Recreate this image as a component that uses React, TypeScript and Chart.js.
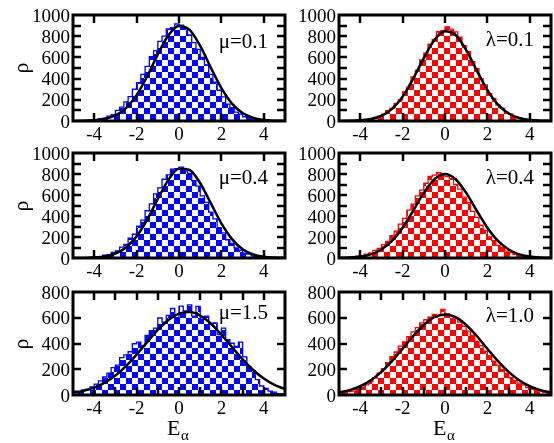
import React, { useEffect, useRef, useState } from "react";
import { Chart, registerables } from "chart.js";

Chart.register(...registerables);

// ---------- data ----------
const BIN_START = -5;
const BIN_WIDTH = 0.2;
const CURVE_X = [-5, -4.5, -4, -3.5, -3, -2.5, -2, -1.5, -1, -0.5, 0, 0.5, 1, 1.5, 2, 2.5, 3, 3.5, 4, 4.5, 5];

const histMu01 = [0, 1, 2, 4, 5, 9, 12, 22, 28, 46, 60, 100, 130, 180, 230, 300, 362, 440, 516, 606, 664, 752, 800, 868, 880, 915, 905, 872, 812, 740, 676, 600, 530, 440, 366, 290, 228, 160, 126, 84, 66, 40, 32, 18, 14, 7, 5, 3, 2, 1];
const fitMu01 = [0, 2, 6, 20, 52, 122, 244, 422, 629, 809, 897, 859, 708, 504, 310, 164, 75, 30, 10, 3, 1];

const histLam01 = [0, 1, 2, 2, 4, 6, 9, 14, 22, 34, 45, 64, 98, 120, 166, 200, 274, 320, 416, 478, 576, 640, 724, 770, 842, 852, 888, 866, 840, 790, 712, 654, 560, 494, 400, 340, 258, 214, 150, 122, 80, 64, 40, 30, 18, 12, 7, 5, 3, 1];
const fitLam01 = [0, 2, 6, 19, 49, 115, 230, 399, 594, 764, 847, 811, 669, 476, 292, 155, 71, 28, 9, 3, 1];

const histMu04 = [0, 1, 1, 3, 3, 7, 10, 14, 26, 32, 54, 68, 104, 130, 188, 226, 304, 360, 450, 516, 610, 668, 752, 792, 846, 850, 866, 830, 806, 736, 684, 592, 530, 436, 372, 288, 240, 174, 140, 96, 74, 46, 36, 20, 16, 8, 6, 3, 2, 1];
const fitMu04 = [0, 1, 5, 15, 41, 100, 206, 366, 562, 744, 850, 838, 712, 522, 329, 180, 84, 34, 12, 4, 1];

const histLam04 = [2, 2, 4, 8, 10, 18, 22, 36, 48, 72, 92, 128, 158, 212, 256, 322, 378, 456, 514, 592, 646, 712, 776, 790, 812, 804, 776, 756, 700, 656, 580, 526, 444, 386, 312, 264, 200, 166, 120, 98, 66, 52, 34, 26, 14, 12, 6, 5, 3, 2];
const fitLam04 = [1, 5, 14, 35, 81, 162, 288, 450, 620, 750, 800, 750, 620, 450, 288, 162, 81, 35, 14, 5, 1];

const histMu15 = [24, 30, 26, 40, 46, 62, 84, 110, 140, 170, 212, 232, 290, 312, 336, 398, 410, 382, 462, 500, 520, 598, 566, 618, 672, 600, 690, 654, 700, 612, 688, 590, 612, 548, 560, 470, 520, 430, 402, 378, 410, 296, 220, 190, 120, 70, 52, 30, 22, 10];
const fitMu15 = [17, 32, 57, 96, 152, 225, 314, 411, 505, 583, 632, 644, 617, 555, 468, 372, 277, 194, 128, 79, 46];

const histLam10 = [10, 14, 18, 26, 30, 44, 60, 78, 104, 132, 170, 204, 252, 298, 334, 380, 412, 454, 490, 524, 560, 586, 604, 626, 618, 664, 632, 612, 592, 566, 534, 496, 462, 416, 384, 340, 304, 262, 232, 196, 168, 134, 112, 92, 78, 58, 50, 38, 30, 20];
const fitLam10 = [20, 38, 68, 115, 180, 263, 359, 458, 544, 604, 625, 604, 544, 458, 359, 263, 180, 115, 68, 38, 20];

const X_TICK_LABELS = [-4, -2, 0, 2, 4];
const X_MARKS_COARSE = [-4, -2, 0, 2, 4];
const X_MARKS_FINE = [-4, -3, -2, -1, 0, 1, 2, 3, 4];
const Y_TICKS_1000 = [0, 200, 400, 600, 800, 1000];
const Y_TICKS_800 = [0, 200, 400, 600, 800];
const Y_MARKS_1000 = [100, 200, 300, 400, 500, 600, 700, 800, 900];
const Y_MARKS_800 = [200, 400, 600];
const PANEL_LABELS = ["μ=0.1", "λ=0.1", "μ=0.4", "λ=0.4", "μ=1.5", "λ=1.0"];
const Y_TITLE = "ρ";
const X_TITLE = "E";
const X_TITLE_SUB = "α";

// ---------- layout / style ----------
const W = 554;
const H = 443;
const FONT = "'Liberation Serif', serif";
const BLUE = "#0000ff";
const RED = "#ff0000";
const ASC = 0.8375; // baseline offset (em) for line-height 1
const ROWS = [
  { t: 15, b: 121 },
  { t: 153, b: 258 },
  { t: 292, b: 395 },
];
const COLS = [
  { l: 73, r: 285 },
  { l: 339, r: 551 },
];

type PanelCfg = {
  hist: number[];
  fit: number[];
  label: string;
  color: string;
  yMax: number;
  yTicks: number[];
  yMarks: number[];
  xMarks: number[];
  row: number;
  col: number;
  labelDy: number;
};

const PANELS: PanelCfg[] = [
  { hist: histMu01, fit: fitMu01, label: PANEL_LABELS[0], color: BLUE, yMax: 1000, yTicks: Y_TICKS_1000, yMarks: Y_MARKS_1000, xMarks: X_MARKS_COARSE, row: 0, col: 0, labelDy: 34 },
  { hist: histLam01, fit: fitLam01, label: PANEL_LABELS[1], color: RED, yMax: 1000, yTicks: Y_TICKS_1000, yMarks: Y_MARKS_1000, xMarks: X_MARKS_COARSE, row: 0, col: 1, labelDy: 32 },
  { hist: histMu04, fit: fitMu04, label: PANEL_LABELS[2], color: BLUE, yMax: 1000, yTicks: Y_TICKS_1000, yMarks: Y_MARKS_1000, xMarks: X_MARKS_COARSE, row: 1, col: 0, labelDy: 32 },
  { hist: histLam04, fit: fitLam04, label: PANEL_LABELS[3], color: RED, yMax: 1000, yTicks: Y_TICKS_1000, yMarks: Y_MARKS_1000, xMarks: X_MARKS_COARSE, row: 1, col: 1, labelDy: 32 },
  { hist: histMu15, fit: fitMu15, label: PANEL_LABELS[4], color: BLUE, yMax: 800, yTicks: Y_TICKS_800, yMarks: Y_MARKS_800, xMarks: X_MARKS_FINE, row: 2, col: 0, labelDy: 28 },
  { hist: histLam10, fit: fitLam10, label: PANEL_LABELS[5], color: RED, yMax: 800, yTicks: Y_TICKS_800, yMarks: Y_MARKS_800, xMarks: X_MARKS_FINE, row: 2, col: 1, labelDy: 31 },
];

function makePattern(color: string): CanvasPattern | string {
  const c = document.createElement("canvas");
  c.width = 12;
  c.height = 12;
  const g = c.getContext("2d");
  if (!g) return color;
  g.fillStyle = "#ffffff";
  g.fillRect(0, 0, 12, 12);
  g.fillStyle = color;
  g.fillRect(0, 0, 6, 6);
  g.fillRect(6, 6, 6, 6);
  return g.createPattern(c, "repeat") || color;
}

function buildChart(canvas: HTMLCanvasElement, cfg: PanelCfg): Chart {
  const box = { ...ROWS[cfg.row], ...COLS[cfg.col] };
  const yW = 50;
  const xH = 30;

  const histPts = cfg.hist.map((v, i) => ({ x: BIN_START + i * BIN_WIDTH, y: v }));
  histPts.push({ x: BIN_START + cfg.hist.length * BIN_WIDTH, y: cfg.hist[cfg.hist.length - 1] });
  const fitPts = cfg.fit.map((v, i) => ({ x: CURVE_X[i], y: v }));

  const frame = {
    id: "frame" + cfg.row + cfg.col,
    afterDraw(chart: any) {
      const ctx: CanvasRenderingContext2D = chart.ctx;
      const { left, top, right, bottom } = chart.chartArea;
      const xs = chart.scales.x;
      const ys = chart.scales.y;
      ctx.save();
      ctx.strokeStyle = "#000";
      ctx.lineWidth = 2.5;
      ctx.lineCap = "butt";
      const TL = 8;
      ctx.beginPath();
      for (const v of cfg.xMarks) {
        const px = Math.round(xs.getPixelForValue(v));
        ctx.moveTo(px, bottom);
        ctx.lineTo(px, bottom - TL);
        ctx.moveTo(px, top);
        ctx.lineTo(px, top + TL);
      }
      for (const v of cfg.yMarks) {
        const py = Math.round(ys.getPixelForValue(v));
        ctx.moveTo(left, py);
        ctx.lineTo(left + TL, py);
        ctx.moveTo(right, py);
        ctx.lineTo(right - TL, py);
      }
      ctx.stroke();
      ctx.lineWidth = 3;
      ctx.strokeRect(left, top, right - left, bottom - top);
      ctx.restore();
    },
  };

  return new Chart(canvas, {
    type: "line",
    data: {
      datasets: [
        {
          data: fitPts,
          borderColor: "#000",
          borderWidth: 2.5,
          pointRadius: 0,
          cubicInterpolationMode: "monotone",
          fill: false,
        },
        {
          data: histPts,
          stepped: "after",
          borderColor: cfg.color,
          borderWidth: 1.3,
          pointRadius: 0,
          fill: "origin",
          backgroundColor: makePattern(cfg.color),
        },
      ],
    } as any,
    options: {
      animation: false,
      responsive: false,
      events: [],
      layout: {
        padding: {
          left: box.l - yW,
          top: box.t,
          right: W - box.r,
          bottom: H - box.b - xH,
        },
      },
      plugins: {
        legend: { display: false },
        tooltip: { enabled: false },
        title: { display: false },
      },
      scales: {
        x: {
          type: "linear",
          min: -5,
          max: 5,
          grid: { display: false, drawTicks: false },
          border: { display: false },
          afterBuildTicks: (s: any) => {
            s.ticks = X_TICK_LABELS.map((v) => ({ value: v }));
          },
          afterFit: (s: any) => {
            s.height = xH;
          },
          ticks: { display: false },
        },
        y: {
          type: "linear",
          min: 0,
          max: cfg.yMax,
          grid: { display: false, drawTicks: false },
          border: { display: false },
          afterBuildTicks: (s: any) => {
            s.ticks = cfg.yTicks.map((v) => ({ value: v }));
          },
          afterFit: (s: any) => {
            s.width = yW;
          },
          ticks: { display: false },
        },
      },
    } as any,
    plugins: [frame],
  });
}

type Lbl = { text: string; style: React.CSSProperties };

function Panel({ cfg }: { cfg: PanelCfg }) {
  const ref = useRef<HTMLCanvasElement>(null);
  const [labels, setLabels] = useState<Lbl[]>([]);
  useEffect(() => {
    const canvas = ref.current;
    if (!canvas) return;
    const chart = buildChart(canvas, cfg);
    const { left, top, right, bottom } = chart.chartArea;
    const xs: any = chart.scales.x;
    const ys: any = chart.scales.y;
    const base: React.CSSProperties = {
      position: "absolute",
      whiteSpace: "nowrap",
      lineHeight: 1,
      fontFamily: FONT,
      color: "#000",
      margin: 0,
      padding: 0,
    };
    const L: Lbl[] = [];
    for (const v of cfg.yTicks) {
      const py = ys.getPixelForValue(v);
      L.push({ text: String(v), style: { ...base, fontSize: 19, left: left - 3, top: py - 9.5, transform: "translateX(-100%)" } });
    }
    for (const v of X_TICK_LABELS) {
      const px = xs.getPixelForValue(v);
      L.push({ text: String(v), style: { ...base, fontSize: 19, left: px, top: bottom + 3, transform: "translateX(-50%)" } });
    }
    L.push({
      text: cfg.label,
      style: { ...base, fontSize: 21, left: right - 17, top: top + cfg.labelDy - ASC * 21, transform: "translateX(-100%)" },
    });
    if (cfg.col === 0) {
      L.push({
        text: Y_TITLE,
        style: { ...base, fontSize: 22, left: 21, top: (top + bottom) / 2, transform: "translate(-50%, -50%) rotate(-90deg)" },
      });
    }
    if (cfg.row === 2) {
      const x0 = xs.getPixelForValue(0);
      L.push({ text: X_TITLE, style: { ...base, fontSize: 22, left: x0 - 12, top: 435 - ASC * 22 } });
      L.push({ text: X_TITLE_SUB, style: { ...base, fontSize: 15, left: x0 + 2, top: 441 - ASC * 15 } });
    }
    setLabels(L);
    return () => chart.destroy();
  }, [cfg]);
  return (
    <>
      <canvas ref={ref} width={W} height={H} style={{ position: "absolute", left: 0, top: 0 }} />
      {labels.map((l, i) => (
        <span key={i} style={l.style}>
          {l.text}
        </span>
      ))}
    </>
  );
}

export default function App() {
  return (
    <div style={{ position: "fixed", left: 0, top: 0, width: W, height: H, background: "#fff" }}>
      {PANELS.map((p, i) => (
        <Panel key={i} cfg={p} />
      ))}
    </div>
  );
}
